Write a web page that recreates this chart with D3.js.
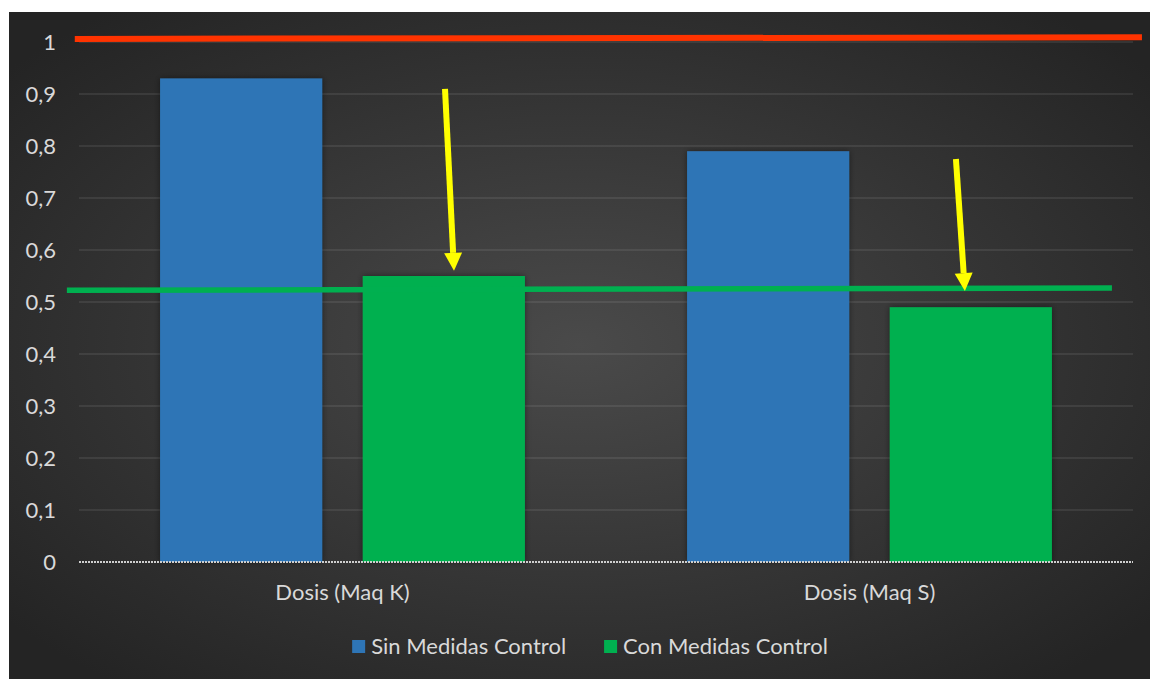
<!DOCTYPE html>
<html>
<head>
<meta charset="utf-8">
<script src="https://cdn.jsdelivr.net/npm/d3@7/dist/d3.min.js"></script>
<style>
  html, body { margin: 0; padding: 0; background: #ffffff; }
  svg { display: block; }
  text { font-family: Lato, "Open Sans", sans-serif; fill: #d9d9d9; }
</style>
</head>
<body>
<svg id="chart" width="1150" height="679"></svg>
<script>
// Categories and series
const categories = ["Dosis (Maq K)", "Dosis (Maq S)"];
const seriesNames = ["Sin Medidas Control", "Con Medidas Control"];
const sinMedidas = [0.93, 0.79];
const conMedidas = [0.55, 0.49];
const yTicks = [0, 0.1, 0.2, 0.3, 0.4, 0.5, 0.6, 0.7, 0.8, 0.9, 1];
const tickLabels = ["0", "0,1", "0,2", "0,3", "0,4", "0,5", "0,6", "0,7", "0,8", "0,9", "1"];

// Reference lines drawn over the chart (x in category units 0..2, y in dose units)
const limitLine = [[-0.008, 1.006], [2.017, 1.009]];
const targetLine = [[-0.023, 0.5225], [1.960, 0.527]];
// Arrows pointing down to the controlled doses
const arrows = [
  { from: [0.6945, 0.910], to: [0.7116, 0.560] },
  { from: [1.664, 0.775], to: [1.681, 0.521] }
];

const colors = { sin: "#2E75B6", con: "#00B050" };

const svg = d3.select("#chart");
const W = 1150, H = 679;
const frame = { x: 9, y: 12, w: W - 9, h: H - 12 };
const plot = { left: 79, right: 1133, top: 42, bottom: 562 };
const fontSize = 22;

// Background with soft radial light
const defs = svg.append("defs");
const grad = defs.append("radialGradient").attr("id", "bg")
  .attr("cx", "50%").attr("cy", "50%").attr("r", "65%");
grad.append("stop").attr("offset", "0%").attr("stop-color", "#4a4a4a");
grad.append("stop").attr("offset", "100%").attr("stop-color", "#242424");
const shadow = defs.append("filter").attr("id", "shadow")
  .attr("x", "-10%").attr("y", "-10%").attr("width", "120%").attr("height", "120%");
shadow.append("feDropShadow").attr("dx", 0).attr("dy", 0)
  .attr("stdDeviation", 3).attr("flood-color", "#000").attr("flood-opacity", 0.45);

svg.append("rect")
  .attr("x", frame.x).attr("y", frame.y)
  .attr("width", frame.w).attr("height", frame.h)
  .attr("fill", "url(#bg)");

// Scales
const y = d3.scaleLinear().domain([0, 1]).range([plot.bottom, plot.top]);
const x0 = d3.scaleBand().domain(categories).range([plot.left, plot.right]).paddingInner(0).paddingOuter(0);
const x1 = d3.scaleBand().domain(seriesNames).range([0, x0.bandwidth()]).paddingInner(0.2).paddingOuter(0.4);
const xu = d3.scaleLinear().domain([0, 2]).range([plot.left, plot.right]);

// Gridlines
svg.append("g")
  .selectAll("line")
  .data(yTicks.filter(d => d > 0))
  .join("line")
  .attr("x1", plot.left).attr("x2", plot.right)
  .attr("y1", d => y(d)).attr("y2", d => y(d))
  .attr("stroke", "#d9d9d9").attr("stroke-opacity", 0.13).attr("stroke-width", 1.3);

// Y axis labels
const yAxis = d3.axisLeft(y).tickValues(yTicks)
  .tickFormat((d, i) => tickLabels[i]).tickSize(0).tickPadding(0);
const gy = svg.append("g").attr("transform", `translate(56,0)`).call(yAxis);
gy.select(".domain").remove();
gy.selectAll("text").attr("font-size", fontSize).attr("fill", "#d9d9d9")
  .style("font-family", "Lato, sans-serif");

// Bars
const rows = categories.map((c, i) => ({ cat: c, vals: [
  { s: seriesNames[0], v: sinMedidas[i], c: colors.sin },
  { s: seriesNames[1], v: conMedidas[i], c: colors.con }
]}));
const groups = svg.append("g").selectAll("g")
  .data(rows).join("g")
  .attr("transform", d => `translate(${x0(d.cat)},0)`);
groups.selectAll("rect")
  .data(d => d.vals).join("rect")
  .attr("x", d => x1(d.s)).attr("width", x1.bandwidth())
  .attr("y", d => y(d.v)).attr("height", d => y(0) - y(d.v))
  .attr("fill", d => d.c)
  .attr("filter", "url(#shadow)");

// Zero axis line
svg.append("line")
  .attr("x1", plot.left).attr("x2", plot.right)
  .attr("y1", y(0)).attr("y2", y(0))
  .attr("stroke", "#cfcfcf").attr("stroke-width", 2)
  .attr("stroke-dasharray", "2,1");

// Category labels
const xAxis = d3.axisBottom(x0).tickSize(0).tickPadding(0);
const gx = svg.append("g").attr("transform", `translate(0,${y(0) + 22})`).call(xAxis);
gx.select(".domain").remove();
gx.selectAll("text").attr("font-size", fontSize).attr("fill", "#d9d9d9")
  .style("font-family", "Lato, sans-serif");

// Limit and target lines
const line = d3.line().x(d => xu(d[0])).y(d => y(d[1]));
svg.append("path").datum(limitLine).attr("d", line)
  .attr("stroke", "#FF3300").attr("stroke-width", 6).attr("fill", "none");
svg.append("path").datum(targetLine).attr("d", line)
  .attr("stroke", "#00B050").attr("stroke-width", 5.5).attr("fill", "none");

// Arrows
const headLen = 18, headHalf = 9;
arrows.forEach(a => {
  const x1p = xu(a.from[0]), y1p = y(a.from[1]);
  const x2p = xu(a.to[0]), y2p = y(a.to[1]);
  const ang = Math.atan2(y2p - y1p, x2p - x1p);
  const bx = x2p - headLen * Math.cos(ang), by = y2p - headLen * Math.sin(ang);
  svg.append("line")
    .attr("x1", x1p).attr("y1", y1p).attr("x2", bx).attr("y2", by)
    .attr("stroke", "#FFFF00").attr("stroke-width", 6);
  const px = -Math.sin(ang), py = Math.cos(ang);
  svg.append("path")
    .attr("d", `M${x2p},${y2p}L${bx + px * headHalf},${by + py * headHalf}L${bx - px * headHalf},${by - py * headHalf}Z`)
    .attr("fill", "#FFFF00");
});

// Legend
const legend = svg.append("g");
const legendItems = [
  { name: seriesNames[0], c: colors.sin },
  { name: seriesNames[1], c: colors.con }
];
const sw = 13, textGap = 6, itemGap = 38, legendBase = 654;
let cursor = 0;
legendItems.forEach(it => {
  const g = legend.append("g");
  g.append("rect").attr("width", sw).attr("height", sw).attr("y", legendBase - 14).attr("fill", it.c);
  const t = g.append("text").attr("x", sw + textGap).attr("y", legendBase)
    .attr("font-size", fontSize).text(it.name);
  const w = sw + textGap + t.node().getComputedTextLength();
  g.attr("transform", `translate(${cursor},0)`);
  cursor += w + itemGap;
});
const total = cursor - itemGap;
legend.attr("transform", `translate(${590 - total / 2},0)`);
</script>
</body>
</html>
